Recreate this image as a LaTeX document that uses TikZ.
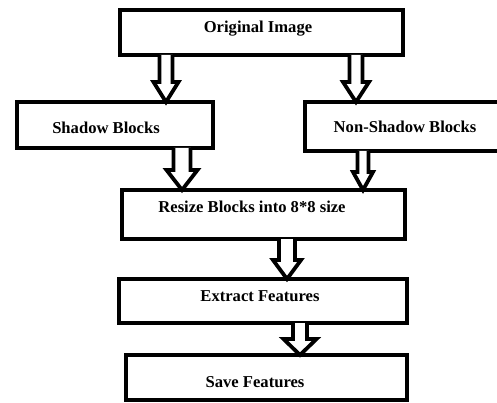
\documentclass[tikz,border=0pt]{standalone}
\usepackage{fontspec}
\setmainfont{Liberation Serif}
\usetikzlibrary{calc}
\tikzset{
  blk/.style={draw, line width=4.5pt, outer sep=0pt, inner sep=0pt, rectangle},
  arrowline/.style={draw, line width=3.8pt, line join=miter, fill=white},
  txt/.style={font=\bfseries\fontsize{16.6}{18}\selectfont, inner sep=0pt}
}
% #1 x-centre, #2 source node, #3 target node, #4 shaft half width, #5 head half width, #6 head length
\newcommand\harrow[6]{%
  \draw[arrowline] let \p1=(#2.south), \p2=(#3.north) in
    ({#1pt-#4pt}, \y1) -- ({#1pt-#4pt}, {\y2+#6pt}) -- ({#1pt-#5pt}, {\y2+#6pt}) -- (#1pt, \y2)
    -- ({#1pt+#5pt}, {\y2+#6pt}) -- ({#1pt+#4pt}, {\y2+#6pt}) -- ({#1pt+#4pt}, \y1);
}
\begin{document}
\begin{tikzpicture}[x=1pt, y=-1pt]
  \useasboundingbox (0,0) rectangle (497,403);
  \clip (0,0) rectangle (497,403);
  \fill[white] (0,0) rectangle (497,403);

  \node[blk, minimum width=283pt, minimum height=45pt,
        label={[txt, xshift=-3.5pt, yshift=4pt]center:Original Image}] (orig) at (261.5,32.5) {};
  \node[blk, minimum width=196pt, minimum height=46pt,
        label={[txt, xshift=-9pt, yshift=-3pt]center:Shadow Blocks}] (shadow) at (115,125) {};
  \node[blk, minimum width=260pt, minimum height=49pt,
        label={[txt, xshift=-30pt, yshift=0pt]center:Non-Shadow Blocks}] (nonshadow) at (435,126.5) {};
  \node[blk, minimum width=283pt, minimum height=49pt,
        label={[txt, xshift=-11.5pt, yshift=8pt]center:Resize Blocks into 8*8 size}] (resize) at (263.5,214.5) {};
  \node[blk, minimum width=288pt, minimum height=44pt,
        label={[txt, xshift=-3pt, yshift=4.5pt]center:Extract Features}] (extract) at (263,301) {};
  \node[blk, minimum width=281pt, minimum height=45pt,
        label={[txt, xshift=-11.5pt, yshift=-5pt]center:Save Features}] (save) at (266.5,377.5) {};

  \harrow{166}{orig}{shadow}{6.5}{12.5}{20}
  \harrow{356}{orig}{nonshadow}{6.5}{13}{20}
  \harrow{182}{shadow}{resize}{8.5}{15.5}{20}
  \harrow{363}{nonshadow}{resize}{5.5}{10}{18}
  \harrow{287}{resize}{extract}{8}{14}{19}
  \harrow{300}{extract}{save}{7}{16.5}{16}
\end{tikzpicture}
\end{document}
